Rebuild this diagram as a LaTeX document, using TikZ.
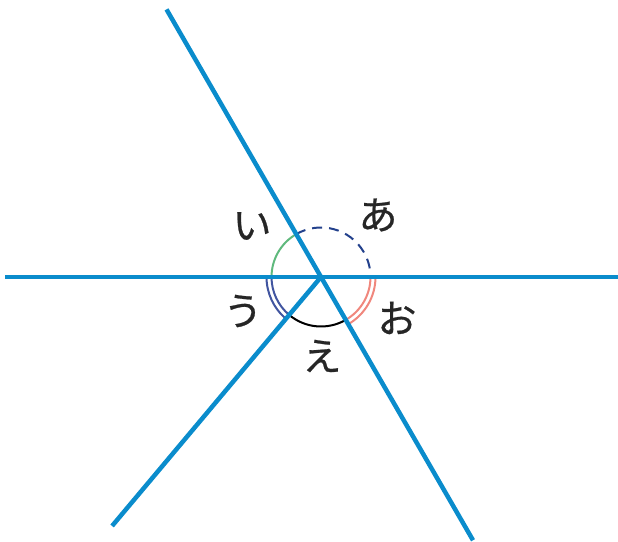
\documentclass[tikz,border=0pt]{standalone}
\usepackage{fontspec}
\newfontfamily\jpfont[FakeBold=0.6]{Noto Sans CJK JP}
\usepackage{xcolor}
\definecolor{LineBlue}{RGB}{10,140,204}
\definecolor{ArcGreen}{RGB}{95,185,125}
\definecolor{ArcNavy}{RGB}{35,65,140}
\definecolor{ArcRed}{RGB}{240,135,125}
\definecolor{ArcBlue}{RGB}{65,85,160}
\usepackage{tikz}
\usetikzlibrary{calc, positioning}

\begin{document}
\begin{tikzpicture}[
    x=1pt, y=1pt,
    main_line/.style={LineBlue, line width=4.5pt},
    angle_arc/.style={line width=2pt},
    kana/.style={font=\jpfont\fontsize{39pt}{41pt}\selectfont, text=black!85, inner sep=0pt}
]
    \useasboundingbox (0,0) rectangle (618,541);

    % 1. CENTRE
    \coordinate (O) at (321,264);

    % 2. ANGLE ARCS
    \draw[angle_arc, ArcGreen] ($(O)+(180:49.5)$) arc[start angle=180, end angle=120, radius=49.5];
    \draw[angle_arc, ArcNavy, dash pattern=on 10pt off 7pt] ($(O)+(120:49.5)$) arc[start angle=120, end angle=0, radius=49.5];
    \foreach \r in {49.5, 54.5} {
        \draw[angle_arc, ArcRed] ($(O)+(0:\r)$) arc[start angle=0, end angle=-60, radius=\r];
        \draw[angle_arc, ArcBlue] ($(O)+(180:\r)$) arc[start angle=180, end angle=230, radius=\r];
    }
    \draw[angle_arc, black] ($(O)+(230:49.5)$) arc[start angle=230, end angle=300, radius=49.5];

    % 3. THE LINES
    \draw[main_line] (5,264) -- (618,264);
    \draw[main_line] ($(O)+(120:309)$) -- ($(O)+(300:304)$);
    \draw[main_line] (O) -- ($(O)+(230:325)$);

    % 4. LABELS
    \node[kana] (mark_a) at (378,326) {あ};
    \node[kana] (mark_i) at (252,315) {い};
    \node[kana] (mark_u) at (243,230) {う};
    \node[kana] (mark_e) at (322,185) {え};
    \node[kana] (mark_o) at (397,223) {お};

\end{tikzpicture}
\end{document}
